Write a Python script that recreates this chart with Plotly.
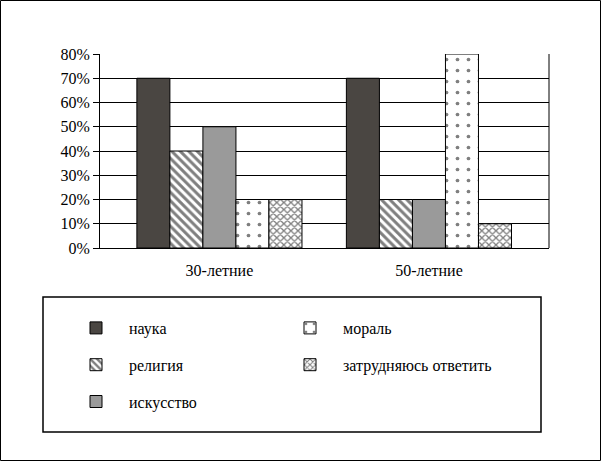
import plotly.graph_objects as go

# --- data ---
groups = ["30-летние", "50-летние"]
series_names = ["наука", "религия", "искусство", "мораль", "затрудняюсь ответить"]
nauka = [70, 70]
religiya = [40, 20]
iskusstvo = [50, 20]
moral = [20, 80]
zatrud = [20, 10]
y_ticks = [0, 10, 20, 30, 40, 50, 60, 70, 80]
y_ticklabels = [f"{v}%" for v in y_ticks]

FONT = "Liberation Serif, Times New Roman, serif"

# fill / pattern per series
STYLES = {
    "наука": dict(color="#4a4642"),
    "религия": dict(color="white", pattern=dict(shape="\\", fgcolor="black", bgcolor="white", size=6, solidity=0.5)),
    "искусство": dict(color="#9a9a9a"),
    "мораль": dict(color="white", pattern=dict(shape=".", fgcolor="black", bgcolor="white", size=11, solidity=0.09)),
    "затрудняюсь ответить": dict(color="white", pattern=dict(shape="x", fgcolor="black", bgcolor="white", size=5, solidity=0.45)),
}
# which legend column and order inside it
LEG = {
    "наука": ("legend", 1),
    "религия": ("legend", 2),
    "искусство": ("legend", 3),
    "мораль": ("legend2", 1),
    "затрудняюсь ответить": ("legend2", 2),
}

values = [nauka, religiya, iskusstvo, moral, zatrud]

fig = go.Figure()
for name, vals in zip(series_names, values):
    st = STYLES[name]
    marker = dict(color=st["color"], line=dict(color="black", width=1))
    if "pattern" in st:
        marker["pattern"] = st["pattern"]
    leg, rank = LEG[name]
    fig.add_trace(go.Bar(
        name=name, x=groups, y=vals, marker=marker,
        legend=leg, legendrank=rank, legendgroup=name,
    ))

W, H = 601, 461
L, R, T, B = 100, 52, 54, 213
pw, ph = W - L - R, H - T - B


def px_x(px):
    return (px - L) / pw


def px_y(py):
    return (H - B - py) / ph


leg_common = dict(
    font=dict(family=FONT, size=16, color="black"),
    bgcolor="rgba(0,0,0,0)", borderwidth=0,
    orientation="v", traceorder="grouped", tracegroupgap=13,
    itemwidth=56,
    xanchor="left", yanchor="top",
)

fig.update_layout(
    width=W, height=H,
    margin=dict(l=L, r=R, t=T, b=B, autoexpand=False),
    barmode="group", bargap=0.212, bargroupgap=0,
    plot_bgcolor="white", paper_bgcolor="white",
    font=dict(family=FONT, size=16, color="black"),
    xaxis=dict(range=[-0.57, 1.573], showline=True, linecolor="black", linewidth=1, ticks="",
               ticklabelstandoff=8,
               tickfont=dict(family=FONT, size=16, color="black")),
    yaxis=dict(range=[0, 80], tickvals=y_ticks, ticktext=y_ticklabels,
               showgrid=True, gridcolor="black", gridwidth=1,
               showline=True, linecolor="black", linewidth=1,
               ticks="outside", ticklen=6, tickcolor="black", ticklabelstandoff=0,
               tickfont=dict(family=FONT, size=16, color="black"), zeroline=False),
    legend=dict(x=px_x(63), y=px_y(311), **leg_common),
    legend2=dict(x=px_x(277), y=px_y(311), **leg_common),
    showlegend=True,
    shapes=[
        # right edge of the plot area
        dict(type="line", xref="paper", yref="paper", x0=1, x1=1, y0=0, y1=1,
             line=dict(color="black", width=1)),
        # legend frame
        dict(type="rect", xref="paper", yref="paper",
             x0=px_x(43), x1=px_x(541), y0=px_y(432), y1=px_y(297),
             line=dict(color="black", width=1.5)),
        # outer frame
        dict(type="rect", xref="paper", yref="paper",
             x0=px_x(0.5), x1=px_x(600.5), y0=px_y(460.5), y1=px_y(0.5),
             line=dict(color="black", width=1)),
    ],
)

fig.write_html("out.html", config={"displayModeBar": False},
               post_script="document.body.style.margin='0';")
